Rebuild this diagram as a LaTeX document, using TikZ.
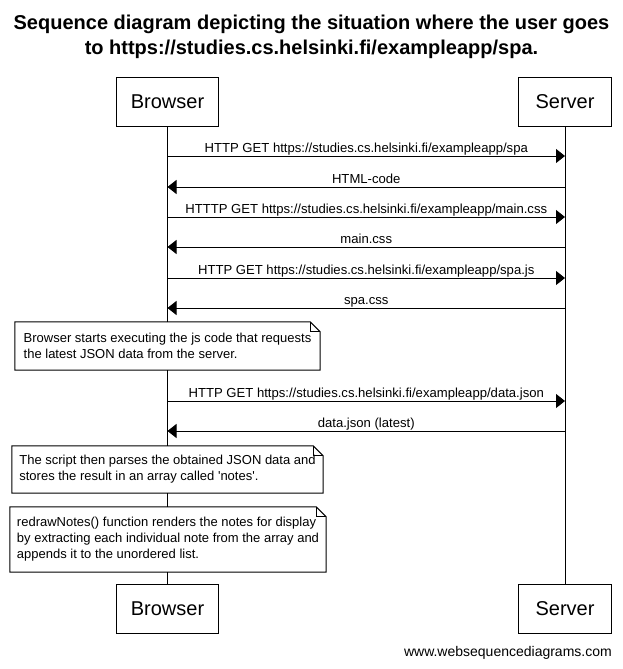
\documentclass[tikz,border=0pt]{standalone}
\usepackage{fontspec}
\setmainfont{Liberation Sans}
\usetikzlibrary{arrows.meta}
\newcommand\drawnote[1]{%
  \draw[line width=1pt] (#1.north west) -- ([xshift=-10pt]#1.north east) -- ([yshift=-10pt]#1.north east) -- (#1.south east) -- (#1.south west) -- cycle;
  \draw[line width=0.8pt] ([xshift=-10pt]#1.north east) |- ([yshift=-10pt]#1.north east);}
\begin{document}
\begin{tikzpicture}[x=1pt,y=-1pt,
  participant/.style={draw, line width=1pt, minimum height=49pt, inner sep=0pt, fill=white,
    font=\fontsize{20}{24}\selectfont},
  msg/.style={-{Triangle[length=9pt,width=14pt]}, line width=1pt},
  lbl/.style={anchor=base, inner sep=0pt, font=\fontsize{13.1}{16}\selectfont},
  note/.style={fill=white, align=left, inner xsep=7pt, inner ysep=0pt,
    font=\fontsize{13}{16}\selectfont},
  titletext/.style={anchor=base, inner sep=0pt, font=\fontsize{20}{25}\selectfont\bfseries}]
\useasboundingbox[fill=white] (0,0) rectangle (623,669);

% title
\node[titletext] (title1) at (311.5,29.5) {Sequence diagram depicting the situation where the user goes};
\node[titletext] (title2) at (311.5,54.5) {to https://studies.cs.helsinki.fi/exampleapp/spa.};

% participants
\node[participant, minimum width=102pt] (bt) at (167.5,101.5) {Browser};
\node[participant, minimum width=93pt] (st) at (565,101.5) {Server};
\node[participant, minimum width=102pt] (bb) at (167.5,609) {Browser};
\node[participant, minimum width=93pt] (sb) at (565,609) {Server};

% lifelines
\draw[line width=1pt] (bt.south) -- (bb.north);
\draw[line width=1pt] (st.south) -- (sb.north);

% messages
\draw[msg] (bt.south |- 0,156) -- (st.south |- 0,156);
\node[lbl] (m1) at (366.25,152) {HTTP GET https://studies.cs.helsinki.fi/exampleapp/spa};
\draw[msg] (st.south |- 0,187) -- (bt.south |- 0,187);
\node[lbl] (m2) at (366.25,183) {HTML-code};
\draw[msg] (bt.south |- 0,217) -- (st.south |- 0,217);
\node[lbl] (m3) at (366.25,213) {HTTTP GET https://studies.cs.helsinki.fi/exampleapp/main.css};
\draw[msg] (st.south |- 0,247) -- (bt.south |- 0,247);
\node[lbl] (m4) at (366.25,243) {main.css};
\draw[msg] (bt.south |- 0,278) -- (st.south |- 0,278);
\node[lbl] (m5) at (366.25,274) {HTTP GET https://studies.cs.helsinki.fi/exampleapp/spa.js};
\draw[msg] (st.south |- 0,308) -- (bt.south |- 0,308);
\node[lbl] (m6) at (366.25,304) {spa.css};

% note 1
\node[note, minimum width=305pt, minimum height=48pt] (n1) at (167.5,346)
  {Browser starts executing the js code that requests\\the latest JSON data from the server.};
\drawnote{n1}

\draw[msg] (bt.south |- 0,401) -- (st.south |- 0,401);
\node[lbl] (m7) at (366.25,397) {HTTP GET https://studies.cs.helsinki.fi/exampleapp/data.json};
\draw[msg] (st.south |- 0,431) -- (bt.south |- 0,431);
\node[lbl] (m8) at (366.25,427) {data.json (latest)};

% note 2
\node[note, minimum width=311pt, minimum height=47pt] (n2) at (167.5,469.5)
  {The script then parses the obtained JSON data and\\stores the result in an array called \textquotesingle notes\textquotesingle.};
\drawnote{n2}

% note 3
\node[note, minimum width=316pt, minimum height=65pt] (n3) at (168,539.5)
  {redrawNotes() function renders the notes for display\\by extracting each individual note from the array and\\appends it to the unordered list.};
\drawnote{n3}

% footer
\node[anchor=base east, inner sep=0pt, font=\fontsize{14}{17}\selectfont] (footer) at (612,656) {www.websequencediagrams.com};
\end{tikzpicture}
\end{document}
